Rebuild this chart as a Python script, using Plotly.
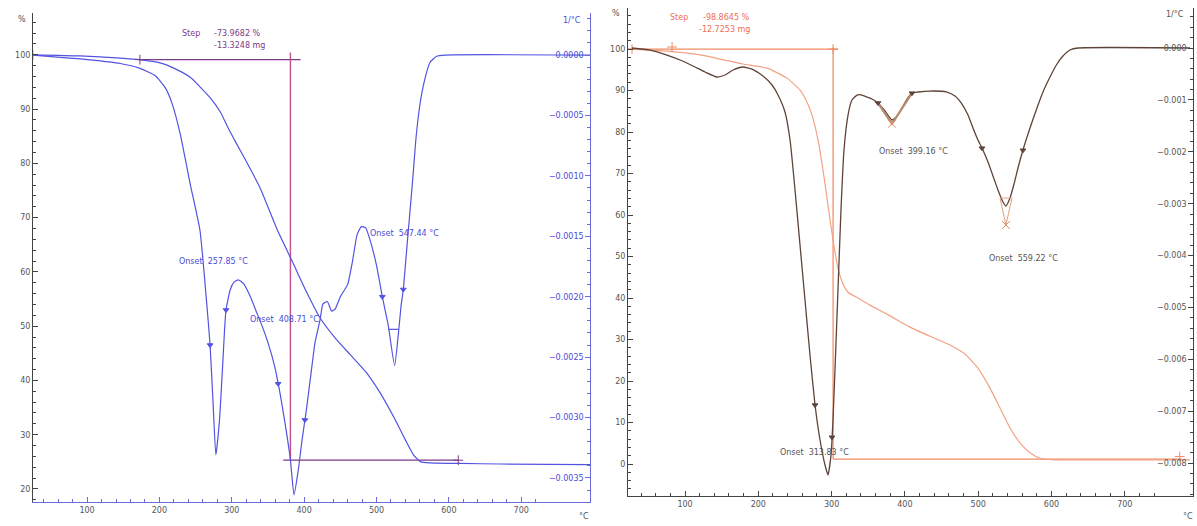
import plotly.graph_objects as go

W, H = 1197, 526

# ================= Left panel (blue) =================
L_TGA_T = [25, 90, 146, 173, 201, 222, 243, 256, 270, 284, 295, 305, 319, 339, 363, 384, 404, 422,
           443, 464, 485, 505, 526, 540, 551, 561, 574, 616, 671, 795]
L_TGA_PCT = [100.0, 99.8, 99.4, 99.1, 98.5, 97.4, 95.8, 94.1, 92.1, 89.5, 86.5, 84.0, 80.6, 75.5, 67.7,
             61.8, 56.1, 51.5, 47.8, 44.7, 41.6, 37.7, 32.7, 29.0, 26.3, 25.0, 24.8, 24.7, 24.6, 24.5]

L_DTG_T = [25, 63, 104, 146, 173, 194, 208, 218, 229, 243, 256, 265, 270, 274, 278, 283, 287, 292, 298,
           303, 309, 316, 325, 335, 343, 350, 359, 367, 375, 381, 386, 392, 397, 403, 410, 415, 422, 426,
           432, 438, 443, 450, 460, 467, 473, 479, 485, 491, 500, 508, 516, 525, 530, 534, 537, 541, 544,
           550, 555, 561, 568, 574, 583, 595, 795]
L_DTG = [0, -0.00002, -0.00004, -0.00007, -0.00011, -0.00017, -0.00027, -0.00041, -0.00066, -0.00108,
         -0.00145, -0.00203, -0.00240, -0.00286, -0.00331, -0.00302, -0.00261, -0.00211, -0.00194, -0.00188,
         -0.00186, -0.00189, -0.00199, -0.00214, -0.00226, -0.00238, -0.00257, -0.00281, -0.00310, -0.00335,
         -0.00364, -0.00343, -0.00319, -0.00294, -0.00261, -0.00238, -0.00219, -0.00206, -0.00204, -0.00212,
         -0.00210, -0.00200, -0.00190, -0.00170, -0.00149, -0.00142, -0.00143, -0.00153, -0.00174, -0.00200,
         -0.00223, -0.00257, -0.00232, -0.00207, -0.00194, -0.00166, -0.00145, -0.00103, -0.00066, -0.00037,
         -0.00017, -0.00006, -0.00001, 0, 0]

L_STEP_TOP_T, L_STEP_TOP = [173, 395], [99.1, 99.1]
L_STEP_VERT_T, L_STEP_VERT = [381, 381], [100.4, 25.3]
L_STEP_BOT_T, L_STEP_BOT = [371, 613], [25.3, 25.3]
L_PLUS_T, L_PLUS = [25, 173, 613], [100.0, 99.1, 25.3]
L_TRI_T = [270, 292, 364, 401, 508, 537]
L_TRI = [-0.00240, -0.00211, -0.00272, -0.00302, -0.00200, -0.00194]
L_BAR_T, L_BAR = [516, 530], [-0.00227, -0.00227]

# ================= Right panel (orange / brown) =================
R_TGA_T = [27.7, 75.4, 120.5, 147.8, 179.1, 211.9, 239.2, 256.9, 263.7, 273.3, 281.5, 288.3, 295.1,
           301.9, 308.7, 315.6, 322.4, 336.0, 352.4, 379.7, 407.0, 434.3, 461.5, 482.0, 499.7, 516.1,
           529.8, 543.4, 557.0, 570.7, 584.3, 604.8, 666.2, 789.0]
R_TGA_PCT = [100.0, 99.5, 98.6, 97.6, 96.4, 95.4, 93.0, 90.1, 88.2, 84.1, 78.1, 70.8, 62.4, 54.0, 47.2,
             43.4, 41.4, 40.0, 38.3, 35.7, 33.0, 30.8, 28.7, 26.5, 23.1, 18.3, 13.5, 8.7, 5.1, 2.7, 1.4,
             1.0, 1.0, 1.0]

R_DTG_T = [27.7, 52.2, 75.4, 93.2, 110.9, 127.3, 143.7, 154.6, 165.5, 179.1, 191.4, 206.4, 218.7, 226.9,
           236.4, 243.3, 250.1, 256.9, 263.7, 270.5, 277.4, 284.2, 291.0, 295.1, 299.2, 301.9, 304.6,
           308.7, 312.8, 316.9, 322.4, 327.8, 334.7, 341.5, 348.3, 355.1, 363.3, 372.9, 382.4, 389.2,
           396.1, 402.9, 409.7, 417.9, 434.3, 457.4, 468.4, 477.9, 486.1, 492.9, 499.7, 505.2, 513.4,
           520.2, 527.0, 533.8, 537.9, 543.4, 548.9, 554.3, 561.1, 570.7, 580.2, 588.4, 598.0, 607.5,
           615.7, 625.3, 636.2, 789.0]
R_DTG = [0, -0.000039, -0.000135, -0.000231, -0.000347, -0.000462, -0.000559, -0.000520, -0.000424,
         -0.000366, -0.000405, -0.000540, -0.000713, -0.000906, -0.001233, -0.001773, -0.002736, -0.003796,
         -0.004856, -0.005915, -0.006879, -0.007553, -0.008035, -0.008227, -0.007842, -0.007168, -0.006204,
         -0.004663, -0.003121, -0.001965, -0.001291, -0.001002, -0.000906, -0.000906, -0.000944, -0.000983,
         -0.001060, -0.001214, -0.001387, -0.001310, -0.001156, -0.000983, -0.000867, -0.000848, -0.000829,
         -0.000848, -0.000925, -0.001079, -0.001291, -0.001541, -0.001773, -0.001927, -0.002197, -0.002466,
         -0.002736, -0.002967, -0.003044, -0.002890, -0.002620, -0.002312, -0.001965, -0.001541, -0.001156,
         -0.000848, -0.000559, -0.000308, -0.000154, -0.000039, 0, 0]

R_STEP_TOP_T, R_STEP_TOP = [22, 309], [100.0, 100.0]
R_STEP_VERT_T, R_STEP_VERT = [302, 302], [100.4, 1.2]
R_STEP_BOT_T, R_STEP_BOT = [302, 778], [1.2, 1.2]
R_PLUS_T, R_PLUS = [27.7, 82.3, 302, 775], [100.0, 100.5, 100.0, 1.8]
R_TRI_T = [277.4, 300.5, 363.3, 409.7, 505.2, 561.1]
R_TRI = [-0.00688, -0.00750, -0.00106, -0.00087, -0.00193, -0.00197]
R_X_T, R_X = [382.4, 537.9], [-0.00146, -0.00341]
R_V_T, R_V = [529.8, 537.9, 546.1, 529.8], [-0.00289, -0.00341, -0.00289, -0.00289]
R_DIP_T, R_DIP = [363.3, 382.4, 409.7], [-0.00106, -0.00146, -0.00087]

# ================= colours =================
BLUE = "#5353e2"
BLUE_TXT = "#4a4ad6"
PURPLE = "#7d3a86"
MAGENTA = "#c0508e"
BROWN = "#5e4438"
SALMON = "#f3a185"
ORANGE = "#f08a62"
ORANGE_TXT = "#ef6d52"
GRAY_TXT = "#555555"
AX = "#444444"
FONT = "DejaVu Sans"

fig = go.Figure()

def line(x, y, xa, ya, color, width=1.2, shape="spline", dash=None):
    fig.add_trace(go.Scatter(x=x, y=y, xaxis=xa, yaxis=ya, mode="lines",
                             line=dict(color=color, width=width, shape=shape,
                                       smoothing=0.5 if shape == "spline" else None, dash=dash),
                             hoverinfo="skip", showlegend=False))

def marks(x, y, xa, ya, color, symbol, size):
    fig.add_trace(go.Scatter(x=x, y=y, xaxis=xa, yaxis=ya, mode="markers",
                             marker=dict(color=color, symbol=symbol, size=size,
                                         line=dict(color=color, width=1)),
                             hoverinfo="skip", showlegend=False))

# left panel
line(L_STEP_TOP_T, L_STEP_TOP, "x", "y", PURPLE, 1.2, "linear")
line(L_STEP_VERT_T, L_STEP_VERT, "x", "y", MAGENTA, 1.4, "linear")
line(L_STEP_BOT_T, L_STEP_BOT, "x", "y", PURPLE, 1.2, "linear")
line(L_TGA_T, L_TGA_PCT, "x", "y", BLUE, 1.2)
line(L_DTG_T, L_DTG, "x", "y2", BLUE, 1.2)
line(L_BAR_T, L_BAR, "x", "y2", BLUE, 1.2, "linear")
marks(L_PLUS_T, L_PLUS, "x", "y", PURPLE, "cross-thin-open", 7)
marks(L_TRI_T, L_TRI, "x", "y2", BLUE, "triangle-down", 5)

# right panel
line(R_STEP_TOP_T, R_STEP_TOP, "x2", "y3", ORANGE, 1.2, "linear")
line(R_STEP_VERT_T, R_STEP_VERT, "x2", "y3", ORANGE, 1.2, "linear")
line(R_STEP_BOT_T, R_STEP_BOT, "x2", "y3", ORANGE, 1.2, "linear")
line(R_TGA_T, R_TGA_PCT, "x2", "y3", SALMON, 1.2)
line(R_DTG_T, R_DTG, "x2", "y4", BROWN, 1.3)
line(R_DIP_T, R_DIP, "x2", "y4", "#b98a6e", 2.2, "linear")
line(R_V_T, R_V, "x2", "y4", "#e0a080", 1.0, "linear")
marks(R_PLUS_T, R_PLUS, "x2", "y3", ORANGE, "cross-thin-open", 7)
marks(R_TRI_T, R_TRI, "x2", "y4", BROWN, "triangle-down", 5)
marks(R_X_T, R_X, "x2", "y4", "#e09060", "x-thin-open", 8)

# axes
tickfont = dict(family=FONT, size=8, color=GRAY_TXT)

def xaxis(domain, rng, color, anchor):
    return dict(domain=domain, range=rng, anchor=anchor, tickmode="linear", tick0=0, dtick=100,
                ticks="inside", ticklen=5, tickcolor=color, showline=True, linecolor=color,
                linewidth=1, showgrid=False, zeroline=False, tickfont=tickfont,
                minor=dict(dtick=20, ticks="inside", ticklen=3, tickcolor=color))

def yaxis(domain, rng, dtick, mdtick, color, anchor, fmt=None, fontcolor=GRAY_TXT):
    d = dict(domain=domain, range=rng, anchor=anchor, tickmode="linear", tick0=0, dtick=dtick,
             ticks="inside", ticklen=5, tickcolor=color, showline=True, linecolor=color,
             linewidth=1, showgrid=False, zeroline=False,
             tickfont=dict(family=FONT, size=8, color=fontcolor),
             minor=dict(dtick=mdtick, ticks="inside", ticklen=3, tickcolor=color))
    if fmt:
        d["tickformat"] = fmt
    return d

L_XD = [33 / W, 590 / W]
L_YD = [1 - 502 / H, 1 - 13 / H]
R_XD = [628 / W, 1193 / W]
R_YD = [1 - 496 / H, 1 - 8 / H]

y2 = yaxis(L_YD, [-0.003699, 0.000348], 0.0005, 0.0001, "#6a6ad8", "x", ".4f", BLUE_TXT)
y2.update(overlaying="y", side="right", ticklabelposition="inside")
y4 = yaxis(R_YD, [-0.008632, 0.000771], 0.001, 0.0002, AX, "x2", ".3f")
y4.update(overlaying="y3", side="right", ticklabelposition="inside")

fig.update_layout(
    width=W, height=H, margin=dict(l=0, r=0, t=0, b=0),
    paper_bgcolor="white", plot_bgcolor="rgba(0,0,0,0)",
    font=dict(family=FONT, size=8, color=GRAY_TXT),
    xaxis=xaxis(L_XD, [25.3, 795], "#6a6ad8", "y"),
    yaxis=yaxis(L_YD, [17.6, 107.7], 10, 2, AX, "x"),
    yaxis2=y2,
    xaxis2=xaxis(R_XD, [22.2, 793.1], AX, "y3"),
    yaxis3=yaxis(R_YD, [-7.7, 109.9], 10, 2, AX, "x2"),
    yaxis4=y4,
)

ann = []
def text(x, y, s, xref, yref, color, xanchor="left", size=8):
    ann.append(dict(x=x, y=y, xref=xref, yref=yref, text=s, showarrow=False, xanchor=xanchor,
                    yanchor="middle", font=dict(family=FONT, size=size, color=color)))

# left texts
text(228.6, 103.9, "Step", "x", "y", PURPLE)
text(343.4, 103.9, "-73.9682 %", "x", "y", PURPLE, "right")
text(349.0, 101.7, "-13.3248 mg", "x", "y", PURPLE, "right")
text(224.5, 62.0, "Onset  257.85 °C", "x", "y", BLUE_TXT)
text(322.7, 51.3, "Onset  408.71 °C", "x", "y", BLUE_TXT)
text(488.7, 67.0, "Onset  547.44 °C", "x", "y", BLUE_TXT)
# right texts
text(76.8, 107.7, "Step", "x2", "y3", ORANGE_TXT)
text(191.4, 107.7, "-98.8645 %", "x2", "y3", ORANGE_TXT, "right")
text(191.4, 104.8, "-12.7253 mg", "x2", "y3", ORANGE_TXT, "right")
text(226.9, 2.9, "Onset  313.83 °C", "x2", "y3", GRAY_TXT)
text(361.9, 75.2, "Onset  399.16 °C", "x2", "y3", GRAY_TXT)
text(512.0, 49.6, "Onset  559.22 °C", "x2", "y3", GRAY_TXT)

# unit labels
text(28 / W, 1 - 20 / H, "%", "paper", "paper", GRAY_TXT, "right")
text(583 / W, 1 - 21 / H, "1/°C", "paper", "paper", BLUE_TXT, "right")
text(584 / W, 1 - 516 / H, "°C", "paper", "paper", GRAY_TXT, "center")
text(622 / W, 1 - 13 / H, "%", "paper", "paper", GRAY_TXT, "right")
text(1186 / W, 1 - 14 / H, "1/°C", "paper", "paper", GRAY_TXT, "right")
text(1188 / W, 1 - 516 / H, "°C", "paper", "paper", GRAY_TXT, "center")
fig.update_layout(annotations=ann)

fig.write_html("out.html", config={"displayModeBar": False},
               post_script="document.body.style.margin='0';document.body.style.overflow='hidden';")
